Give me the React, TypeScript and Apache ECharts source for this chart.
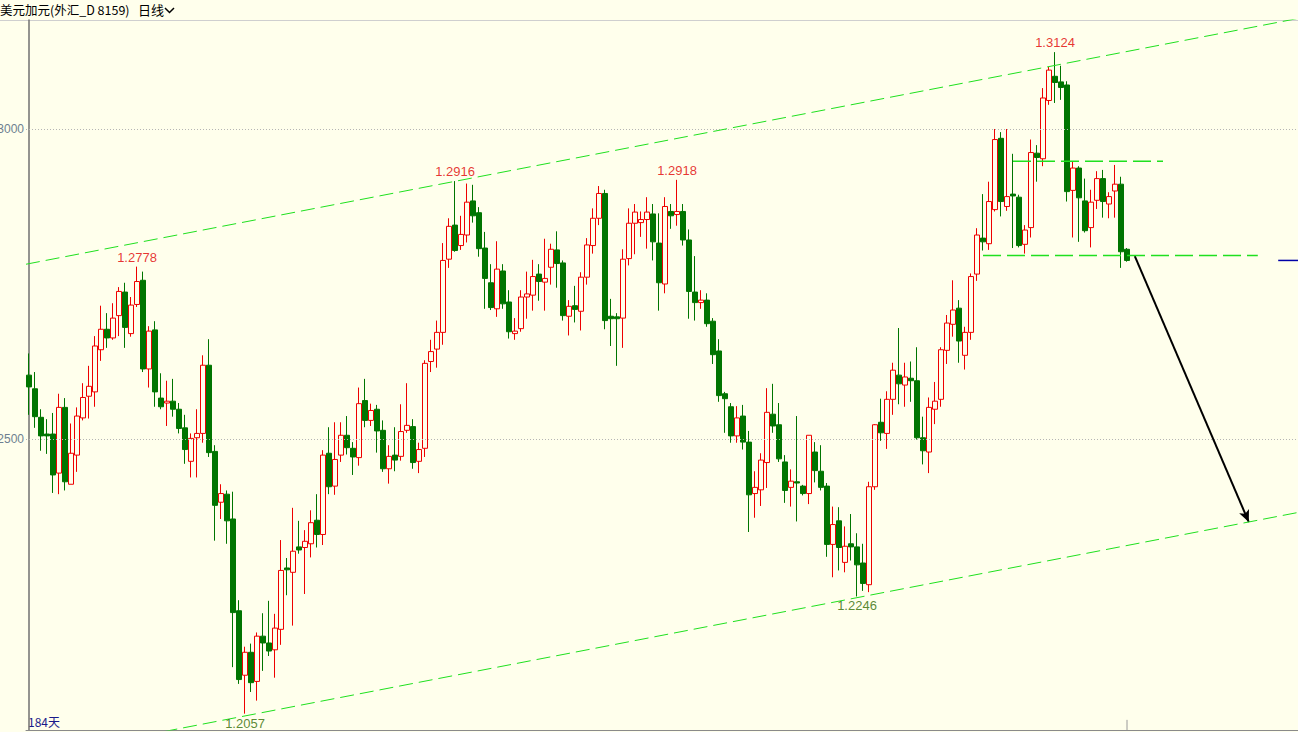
import React, { useEffect, useRef } from "react";
import * as echarts from "echarts";

// ---- Data (USD/CAD daily, 184 bars) ----
const opens = [
  1.2603, 1.2581, 1.2535, 1.2508, 1.2508, 1.2445, 1.2551, 1.2427, 1.2474, 1.2534,
  1.2569, 1.2576, 1.2644, 1.2677, 1.2663, 1.2699, 1.2737, 1.2670, 1.2717, 1.2756,
  1.2613, 1.2676, 1.2566, 1.2558, 1.2561, 1.2548, 1.2518, 1.2464, 1.2502, 1.2509,
  1.2619, 1.2480, 1.2398, 1.2411, 1.2371, 1.2223, 1.2119, 1.2156, 1.2109, 1.2182,
  1.2171, 1.2160, 1.2193, 1.2292, 1.2285, 1.2326, 1.2325, 1.2331, 1.2369, 1.2346,
  1.2477, 1.2424, 1.2474, 1.2506, 1.2485, 1.2470, 1.2562, 1.2530, 1.2548, 1.2514,
  1.2452, 1.2474, 1.2472, 1.2514, 1.2520, 1.2464, 1.2485, 1.2625, 1.2645, 1.2672,
  1.2790, 1.2845, 1.2812, 1.2829, 1.2884, 1.2865, 1.2808, 1.2752, 1.2710, 1.2771,
  1.2721, 1.2670, 1.2678, 1.2729, 1.2732, 1.2766, 1.2753, 1.2777, 1.2805, 1.2784,
  1.2698, 1.2715, 1.2706, 1.2761, 1.2812, 1.2856, 1.2896, 1.2698, 1.2697, 1.2695,
  1.2791, 1.2848, 1.2849, 1.2854, 1.2863, 1.2816, 1.2750, 1.2867, 1.2862, 1.2867,
  1.2821, 1.2737, 1.2720, 1.2724, 1.2690, 1.2642, 1.2573, 1.2552, 1.2505, 1.2537,
  1.2495, 1.2412, 1.2418, 1.2462, 1.2540, 1.2523, 1.2463, 1.2422, 1.2431, 1.2424,
  1.2412, 1.2479, 1.2448, 1.2424, 1.2330, 1.2368, 1.2301, 1.2331, 1.2326, 1.2300,
  1.2265, 1.2423, 1.2527, 1.2509, 1.2564, 1.2603, 1.2587, 1.2598, 1.2594, 1.2502,
  1.2479, 1.2548, 1.2564, 1.2643, 1.2685, 1.2711, 1.2635, 1.2672, 1.2766, 1.2824,
  1.2815, 1.2870, 1.2985, 1.2875, 1.2895, 1.2890, 1.2814, 1.2841, 1.2961, 1.2952,
  1.3046, 1.3085, 1.3076, 1.3071, 1.2901, 1.2937, 1.2884, 1.2841, 1.2885, 1.2920,
  1.2879, 1.2900, 1.2911, 1.2806,
];
const closes = [
  1.2584, 1.2536, 1.2505, 1.2505, 1.2442, 1.2551, 1.2431, 1.2477, 1.2537, 1.2567,
  1.2585, 1.2650, 1.2677, 1.2663, 1.2695, 1.2738, 1.2680, 1.2716, 1.2754, 1.2613,
  1.2674, 1.2576, 1.2552, 1.2561, 1.2548, 1.2517, 1.2483, 1.2501, 1.2509, 1.2619,
  1.2478, 1.2393, 1.2412, 1.2368, 1.2220, 1.2112, 1.2156, 1.2107, 1.2182, 1.2171,
  1.2158, 1.2195, 1.2288, 1.2289, 1.2319, 1.2321, 1.2335, 1.2365, 1.2346, 1.2474,
  1.2423, 1.2467, 1.2506, 1.2486, 1.2471, 1.2557, 1.2530, 1.2546, 1.2513, 1.2452,
  1.2472, 1.2466, 1.2512, 1.2522, 1.2462, 1.2483, 1.2622, 1.2641, 1.2672, 1.2788,
  1.2843, 1.2804, 1.2830, 1.2882, 1.2860, 1.2807, 1.2759, 1.2712, 1.2774, 1.2718,
  1.2673, 1.2674, 1.2729, 1.2734, 1.2762, 1.2754, 1.2759, 1.2806, 1.2783, 1.2699,
  1.2714, 1.2709, 1.2761, 1.2813, 1.2856, 1.2896, 1.2691, 1.2694, 1.2694, 1.2790,
  1.2848, 1.2866, 1.2854, 1.2866, 1.2818, 1.2752, 1.2875, 1.2860, 1.2867, 1.2821,
  1.2738, 1.2720, 1.2724, 1.2686, 1.2636, 1.2570, 1.2565, 1.2505, 1.2534, 1.2495,
  1.2410, 1.2422, 1.2466, 1.2543, 1.2521, 1.2468, 1.2417, 1.2432, 1.2429, 1.2412,
  1.2506, 1.2449, 1.2422, 1.2330, 1.2362, 1.2325, 1.2327, 1.2326, 1.2297, 1.2267,
  1.2423, 1.2523, 1.2510, 1.2564, 1.2611, 1.2589, 1.2600, 1.2594, 1.2502, 1.2481,
  1.2551, 1.2561, 1.2644, 1.2687, 1.2708, 1.2658, 1.2672, 1.2762, 1.2829, 1.2818,
  1.2883, 1.2983, 1.2883, 1.2891, 1.2892, 1.2812, 1.2837, 1.2962, 1.2954, 1.3050,
  1.3095, 1.3075, 1.3067, 1.2899, 1.2937, 1.2889, 1.2836, 1.2882, 1.2920, 1.2883,
  1.2891, 1.2911, 1.2802, 1.2788,
];
const lows = [
  1.2539, 1.2518, 1.2481, 1.2476, 1.2413, 1.2411, 1.2417, 1.2427, 1.2447, 1.2530,
  1.2533, 1.2552, 1.2626, 1.2647, 1.2660, 1.2666, 1.2647, 1.2665, 1.2713, 1.2608,
  1.2583, 1.2552, 1.2548, 1.2521, 1.2536, 1.2509, 1.2460, 1.2438, 1.2438, 1.2494,
  1.2471, 1.2336, 1.2371, 1.2331, 1.2132, 1.2105, 1.2057, 1.2092, 1.2078, 1.2126,
  1.2150, 1.2115, 1.2168, 1.2248, 1.2199, 1.2315, 1.2250, 1.2309, 1.2325, 1.2329,
  1.2411, 1.2410, 1.2463, 1.2475, 1.2442, 1.2457, 1.2519, 1.2521, 1.2478, 1.2447,
  1.2428, 1.2448, 1.2465, 1.2510, 1.2452, 1.2445, 1.2471, 1.2608, 1.2615, 1.2652,
  1.2776, 1.2802, 1.2805, 1.2817, 1.2849, 1.2794, 1.2710, 1.2708, 1.2697, 1.2710,
  1.2662, 1.2660, 1.2673, 1.2694, 1.2707, 1.2723, 1.2707, 1.2749, 1.2744, 1.2691,
  1.2667, 1.2688, 1.2675, 1.2749, 1.2799, 1.2845, 1.2677, 1.2650, 1.2618, 1.2647,
  1.2780, 1.2798, 1.2826, 1.2807, 1.2788, 1.2707, 1.2735, 1.2839, 1.2844, 1.2812,
  1.2694, 1.2691, 1.2710, 1.2681, 1.2621, 1.2560, 1.2510, 1.2494, 1.2494, 1.2483,
  1.2350, 1.2373, 1.2392, 1.2421, 1.2510, 1.2463, 1.2397, 1.2391, 1.2367, 1.2409,
  1.2395, 1.2430, 1.2417, 1.2310, 1.2277, 1.2288, 1.2285, 1.2304, 1.2246, 1.2255,
  1.2253, 1.2418, 1.2497, 1.2484, 1.2539, 1.2556, 1.2552, 1.2560, 1.2499, 1.2459,
  1.2445, 1.2524, 1.2552, 1.2621, 1.2665, 1.2623, 1.2612, 1.2660, 1.2755, 1.2804,
  1.2805, 1.2867, 1.2859, 1.2868, 1.2808, 1.2809, 1.2799, 1.2825, 1.2915, 1.2940,
  1.3039, 1.3042, 1.3047, 1.2883, 1.2825, 1.2818, 1.2833, 1.2809, 1.2871, 1.2857,
  1.2856, 1.2857, 1.2776, 1.2786,
];
const highs = [
  1.2638, 1.2608, 1.2548, 1.2532, 1.2542, 1.2573, 1.2566, 1.2525, 1.2551, 1.2590,
  1.2618, 1.2666, 1.2715, 1.2703, 1.2719, 1.2745, 1.2752, 1.2729, 1.2778, 1.2770,
  1.2682, 1.2690, 1.2606, 1.2594, 1.2597, 1.2558, 1.2539, 1.2509, 1.2548, 1.2635,
  1.2661, 1.2490, 1.2427, 1.2417, 1.2415, 1.2240, 1.2165, 1.2170, 1.2188, 1.2219,
  1.2239, 1.2218, 1.2337, 1.2308, 1.2389, 1.2368, 1.2353, 1.2385, 1.2411, 1.2482,
  1.2519, 1.2527, 1.2527, 1.2537, 1.2495, 1.2583, 1.2597, 1.2557, 1.2555, 1.2530,
  1.2490, 1.2519, 1.2556, 1.2590, 1.2532, 1.2494, 1.2627, 1.2660, 1.2691, 1.2816,
  1.2856, 1.2916, 1.2860, 1.2912, 1.2910, 1.2874, 1.2834, 1.2782, 1.2819, 1.2782,
  1.2740, 1.2695, 1.2740, 1.2770, 1.2789, 1.2782, 1.2823, 1.2815, 1.2835, 1.2788,
  1.2724, 1.2747, 1.2769, 1.2824, 1.2872, 1.2908, 1.2902, 1.2726, 1.2703, 1.2806,
  1.2872, 1.2879, 1.2867, 1.2890, 1.2879, 1.2864, 1.2890, 1.2879, 1.2918, 1.2879,
  1.2838, 1.2795, 1.2740, 1.2735, 1.2695, 1.2661, 1.2576, 1.2558, 1.2553, 1.2555,
  1.2513, 1.2448, 1.2477, 1.2582, 1.2589, 1.2558, 1.2474, 1.2451, 1.2537, 1.2426,
  1.2506, 1.2495, 1.2490, 1.2429, 1.2391, 1.2390, 1.2359, 1.2379, 1.2348, 1.2331,
  1.2431, 1.2524, 1.2565, 1.2577, 1.2623, 1.2679, 1.2623, 1.2625, 1.2648, 1.2536,
  1.2567, 1.2592, 1.2648, 1.2700, 1.2756, 1.2724, 1.2681, 1.2767, 1.2840, 1.2895,
  1.2915, 1.3000, 1.2995, 1.3000, 1.2960, 1.2894, 1.2845, 1.2983, 1.2974, 1.3066,
  1.3100, 1.3124, 1.3102, 1.3077, 1.2947, 1.2940, 1.2920, 1.2902, 1.2932, 1.2934,
  1.2898, 1.2942, 1.2923, 1.2808,
];

// total slots on the time axis (bars + empty space on the right)
const SLOT_COUNT = 212;
const categories = Array.from({ length: SLOT_COUNT }, (_, i) => String(i + 1));

// price axis range and labelled levels
const Y_MIN = 1.2030645;
const Y_MAX = 1.3175806;
const gridLevels = [1.3, 1.25];

// annotations: [barIndex, price]
const upperChannel = [[-0.5, 1.27819], [211.5, 1.31783]];
const lowerChannel = [[-0.5, 1.19851], [211.5, 1.23815]];
const resistanceLine = [[164, 1.2948], [189, 1.2948]];
const supportLine = [[159, 1.2796], [204.8, 1.2796]];
const arrowPath = [[184.3, 1.2795], [203.3, 1.2366]];
const lastPriceMark = [[208.2, 1.2788], [211.5, 1.2788]];
const peakLabels = [[18, 1.2778], [71, 1.2916], [108, 1.2918], [171, 1.3124]];
const troughLabels = [[36, 1.2057], [138, 1.2246]];
const lastBarTick = [[183, Y_MIN], [183, 1.2047]];

const BG = "#ffffec";
const UP = "#ee0000";
const DOWN = "#007500";
const CHANNEL = "#1fe01f";

export default function App() {
  const ref = useRef<HTMLDivElement>(null);

  useEffect(() => {
    document.body.style.margin = "0";
    document.body.style.background = BG;
    const chart = echarts.init(ref.current!, null, { renderer: "svg" });
    const ohlc = opens.map((o, i) => [o, closes[i], lows[i], highs[i]]);
    const overlayLine = (data: number[][], color: string, width: number, type: any, z = 5) => ({
      type: "line",
      xAxisIndex: 1,
      yAxisIndex: 0,
      data,
      symbol: "none",
      silent: true,
      clip: true,
      z,
      lineStyle: { color, width, type },
    });
    const labelSeries = (data: number[][], color: string, position: string) => ({
      type: "scatter",
      xAxisIndex: 1,
      yAxisIndex: 0,
      data,
      symbol: "circle",
      symbolSize: 2,
      z: 8,
      silent: true,
      itemStyle: { color: "rgba(0,0,0,0)" },
      label: {
        show: true,
        position,
        distance: 2,
        color,
        fontSize: 13,
        fontFamily: "Liberation Sans",
        formatter: (p: any) => Number(p.value[1]).toFixed(4),
      },
    });

    const option: any = {
      animation: false,
      backgroundColor: BG,
      grid: { left: 26, right: 0, top: 20, bottom: 2, containLabel: false },
      xAxis: [
        {
          type: "category",
          data: categories,
          boundaryGap: true,
          axisLine: { show: true, onZero: false, lineStyle: { color: "#8a8a8a", width: 1 } },
          axisTick: { show: false },
          axisLabel: { show: false },
          splitLine: { show: false },
        },
        {
          type: "value",
          min: -0.5,
          max: SLOT_COUNT - 0.5,
          show: false,
        },
      ],
      yAxis: {
        type: "value",
        min: Y_MIN,
        max: Y_MAX,
        axisLine: { show: true, lineStyle: { color: "#707070", width: 1.5 } },
        axisTick: { show: false },
        axisLabel: { show: false },
        splitLine: { show: false },
      },
      graphic: [
        {
          type: "line",
          shape: { x1: 0, y1: 20.5, x2: 1298, y2: 20.5 },
          style: { stroke: "#cfcfcf", lineWidth: 1 },
          silent: true,
        },
        {
          type: "text",
          left: 0,
          top: 3,
          style: { text: "美元加元(外汇_D 8159)", font: '12.5px "Noto Sans CJK SC"', fill: "#000" },
        },
        {
          type: "text",
          left: 138,
          top: 3,
          style: { text: "日线", font: '13px "Noto Sans CJK SC"', fill: "#000" },
        },
        {
          type: "polyline",
          shape: { points: [[165, 8], [169.5, 12.5], [174, 8]] },
          style: { stroke: "#000", lineWidth: 1.5, fill: null },
        },
        {
          type: "text",
          left: 28,
          top: 715,
          style: { text: `${opens.length}天`, font: '12px "Noto Sans CJK SC"', fill: "#1a1a8a" },
        },
      ],
      series: [
        {
          type: "line",
          xAxisIndex: 1,
          data: [],
          z: 1,
          silent: true,
          markLine: {
            silent: true,
            symbol: ["none", "none"],
            lineStyle: { color: "#b5b5b5", type: [1, 2], width: 1 },
            label: {
              position: "start",
              distance: 2,
              color: "#6e7f90",
              fontSize: 12,
              fontFamily: "Liberation Sans",
              formatter: (p: any) => Number(p.value).toFixed(4),
            },
            data: gridLevels.map((v) => ({ yAxis: v })),
          },
        },
        {
          type: "candlestick",
          xAxisIndex: 0,
          yAxisIndex: 0,
          data: ohlc,
          barWidth: 5,
          z: 3,
          silent: true,
          itemStyle: {
            color: BG,
            color0: DOWN,
            borderColor: UP,
            borderColor0: DOWN,
            borderWidth: 1,
          },
        },
        overlayLine(upperChannel, CHANNEL, 1, [14, 6]),
        overlayLine(lowerChannel, CHANNEL, 1, [14, 6]),
        overlayLine(resistanceLine, CHANNEL, 1.3, [18, 6]),
        overlayLine(supportLine, CHANNEL, 1.3, [18, 6]),
        overlayLine(lastPriceMark, "#0000a8", 1.5, "solid"),
        overlayLine(lastBarTick, "#9a9a9a", 1, "solid"),
        {
          type: "line",
          xAxisIndex: 1,
          data: [],
          z: 6,
          silent: true,
          markLine: {
            silent: true,
            symbol: ["none", "arrow"],
            symbolSize: [8, 12],
            label: { show: false },
            lineStyle: { color: "#000", width: 2, type: "solid" },
            data: [[{ coord: arrowPath[0] }, { coord: arrowPath[1] }]],
          },
        },
        labelSeries(peakLabels, "#e00000", "top"),
        labelSeries(troughLabels, "#2f6a00", "bottom"),
      ],
    };
    chart.setOption(option);
    return () => chart.dispose();
  }, []);

  return (
    <div
      ref={ref}
      style={{ position: "fixed", left: 0, top: 0, width: "1298px", height: "732px" }}
    />
  );
}
